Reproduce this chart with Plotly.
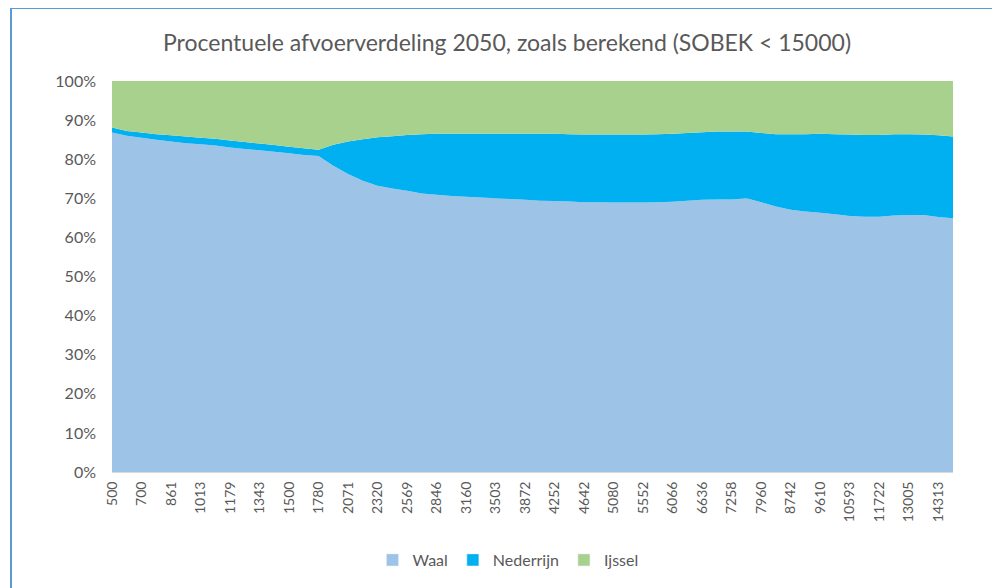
import plotly.graph_objects as go

# Category values (discharge, m3/s); odd ones are unlabeled in the reference
categories = [500, 600, 700, 780, 861, 935, 1013, 1095, 1179, 1260, 1343, 1420, 1500, 1640,
              1780, 1920, 2071, 2195, 2320, 2445, 2569, 2705, 2846, 3000, 3160, 3330, 3503, 3685,
              3872, 4060, 4252, 4445, 4642, 4860, 5080, 5310, 5552, 5805, 6066, 6350, 6636, 6945,
              7258, 7600, 7960, 8340, 8742, 9165, 9610, 10090, 10593, 11140, 11722, 12350, 13005,
              13640, 14313, 15000]
tick_labels = [500, 700, 861, 1013, 1179, 1343, 1500, 1780, 2071, 2320, 2569, 2846, 3160, 3503,
               3872, 4252, 4642, 5080, 5552, 6066, 6636, 7258, 7960, 8742, 9610, 10593, 11722,
               13005, 14313]

waal = [86.8, 86.0, 85.5, 85.0, 84.5, 84.1, 83.8, 83.5, 83.0, 82.6, 82.3, 81.9, 81.5, 81.1,
        80.8, 78.3, 76.2, 74.5, 73.2, 72.5, 71.9, 71.2, 70.9, 70.6, 70.4, 70.2, 70.0, 69.8,
        69.6, 69.4, 69.3, 69.2, 69.0, 69.0, 68.9, 68.9, 68.9, 69.0, 69.1, 69.4, 69.6, 69.7,
        69.7, 70.0, 69.0, 67.9, 67.1, 66.6, 66.3, 65.9, 65.5, 65.3, 65.3, 65.6, 65.7, 65.7,
        65.2, 64.9]
waal_plus_nederrijn = [88.1, 87.2, 86.8, 86.4, 86.1, 85.8, 85.5, 85.2, 84.8, 84.4, 84.0, 83.6,
                       83.2, 82.8, 82.4, 83.7, 84.5, 85.1, 85.6, 85.9, 86.2, 86.4, 86.5, 86.5,
                       86.5, 86.5, 86.5, 86.5, 86.5, 86.5, 86.5, 86.4, 86.3, 86.3, 86.3, 86.3,
                       86.3, 86.4, 86.5, 86.7, 86.9, 87.1, 87.1, 87.1, 86.7, 86.4, 86.4, 86.4,
                       86.5, 86.4, 86.3, 86.2, 86.2, 86.4, 86.4, 86.3, 86.1, 85.8]
nederrijn = [round(t - w, 2) for t, w in zip(waal_plus_nederrijn, waal)]
ijssel = [round(100 - t, 2) for t in waal_plus_nederrijn]

series = [("Waal", waal, "#9DC3E6"),
          ("Nederrijn", nederrijn, "#00B0F0"),
          ("Ijssel", ijssel, "#A9D18E")]

cats = [str(c) for c in categories]
FONT = "Lato"
GREY = "#595959"

fig = go.Figure()
for name, vals, col in series:
    fig.add_trace(go.Scatter(x=cats, y=vals, name=name, stackgroup="one", mode="none",
                             fillcolor=col, line=dict(width=0), showlegend=False))
# legend-only entries with square swatches
for name, vals, col in series:
    fig.add_trace(go.Bar(x=[None], y=[None], name=name, marker_color=col, showlegend=True))

# page body has an 8px offset, so figure coords = screen coords - 8
OFF = 8
W, H = 1000, 588
L, R, T, B = 112 - OFF, 1000 - (953 - OFF), 81 - OFF, 588 - (472 - OFF)
pw, ph = W - L - R, H - T - B

def sx(px):
    return (px - OFF - L) / pw

def sy(py):
    return (H - B - (py - OFF)) / ph

fig.update_layout(
    width=W, height=H,
    margin=dict(l=L, r=R, t=T, b=B),
    paper_bgcolor="white", plot_bgcolor="white",
    font=dict(family=FONT, color=GREY, size=14),
    title=dict(text="Procentuele afvoerverdeling 2050, zoals berekend (SOBEK < 15000)",
               x=(507 - OFF) / W, xanchor="center", y=1 - (43 - OFF) / H, yanchor="middle",
               font=dict(size=23, color=GREY, family=FONT)),
    xaxis=dict(type="category", range=[0, len(cats) - 1],
               tickmode="array", tickvals=[str(t) for t in tick_labels],
               ticktext=[str(t) for t in tick_labels], tickangle=-90,
               showgrid=False, showline=True, linecolor="#D9D9D9", ticks="",
               ticklabelstandoff=3,
               tickfont=dict(size=14, color=GREY)),
    yaxis=dict(range=[0, 100], tickvals=list(range(0, 101, 10)),
               ticktext=[f"{v}%" for v in range(0, 101, 10)],
               showgrid=True, gridcolor="#D9D9D9", zeroline=False, ticks="",
               ticklabelstandoff=15,
               tickfont=dict(size=16, color=GREY)),
    legend=dict(orientation="h", x=sx(508), xanchor="center", y=sy(560),
                yanchor="middle", font=dict(size=16, color=GREY),
                traceorder="normal"),
    showlegend=True,
    barmode="overlay",
)

fig.add_shape(type="rect", xref="paper", yref="paper",
              x0=sx(11), x1=sx(997), y0=sy(620), y1=sy(8),
              line=dict(color="#5B9BD5", width=2), fillcolor="rgba(0,0,0,0)", layer="above")

fig.write_html("out.html")
